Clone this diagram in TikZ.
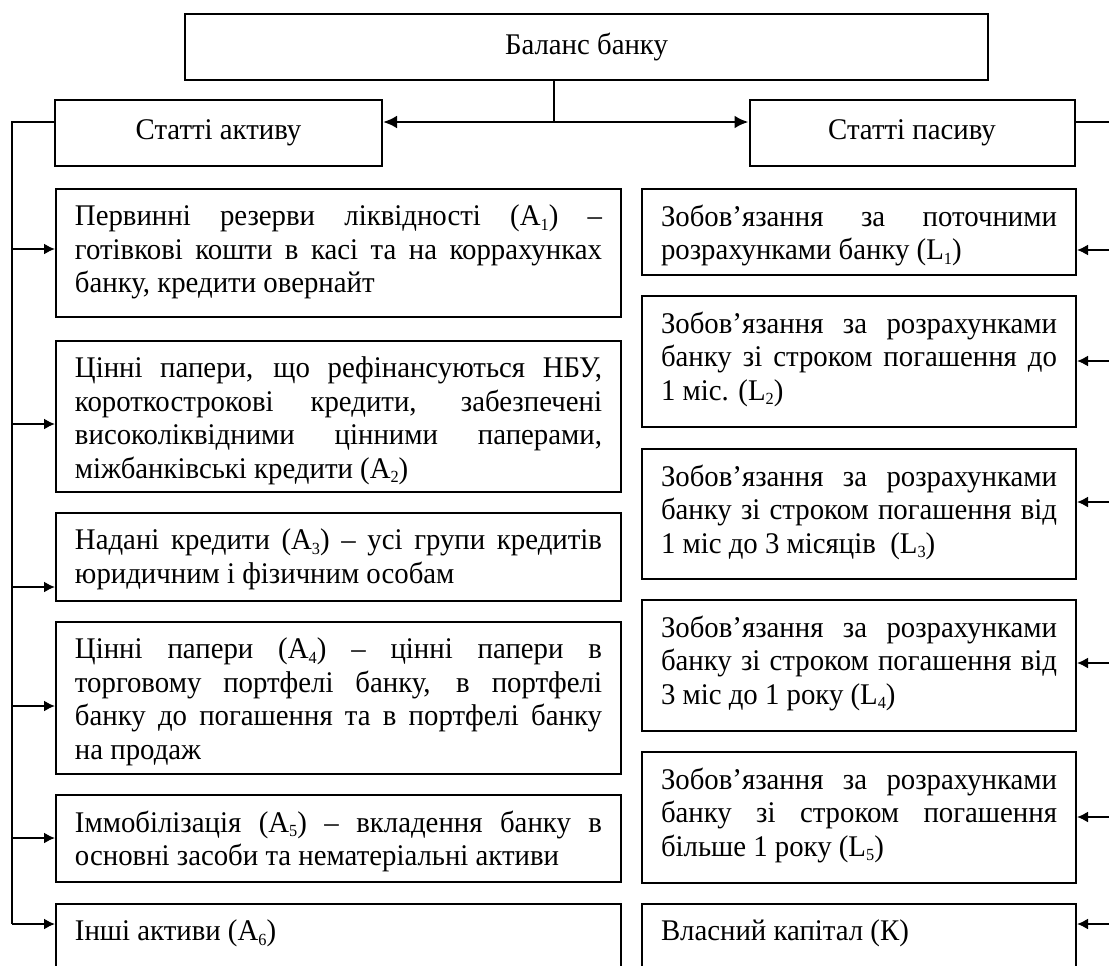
\documentclass[tikz,border=0pt]{standalone}
\usepackage{fontspec}
\setmainfont{Liberation Serif}[FakeStretch=0.96]
\usetikzlibrary{arrows.meta}
\hyphenpenalty=10000
\exhyphenpenalty=10000
\newcommand\tbox[6]{%
  \node[tb] (#1) at (#2,#3) {\parbox[t][\dimexpr #5pt/2-16pt\relax][t]{\dimexpr #4pt/2-19pt\relax}{#6}};}
\newcommand\sub[1]{\raisebox{-0.15em}{\fontsize{8.5}{8.5}\selectfont #1}}
\begin{document}
\begin{tikzpicture}[x=0.5pt,y=-0.5pt,
  tb/.style={draw, line width=1pt, anchor=north west, inner xsep=9.5pt, inner ysep=8pt, font=\fontsize{15}{16.7}\selectfont},
  hb/.style={draw, line width=1pt, inner sep=0pt, font=\fontsize{15}{16.7}\selectfont},
  ln/.style={line width=0.8pt},
  arr/.style={line width=0.9pt, -{Latex[length=5.5pt,width=5.5pt]}},
  barr/.style={line width=1.4pt, -{Latex[length=7pt,width=6.5pt]}}]
\useasboundingbox (0,0) rectangle (1109,965);
\node[hb, minimum width=401.5pt, minimum height=33pt] (bal) at (586.5,47) {Баланс банку};
\node[hb, minimum width=163.5pt, minimum height=33pt] (act) at (218.5,133) {Статті активу};
\node[hb, minimum width=162.5pt, minimum height=33pt] (pas) at (912,133) {Статті пасиву};
\tbox{a1}{55}{188}{565}{128}{Первинні резерви ліквідності (A\sub{1})~–\linebreak готівкові кошти в касі та на коррахунках\linebreak банку, кредити овернайт}
\tbox{a2}{55}{340}{565}{151}{Цінні папери, що рефінансуються НБУ,\linebreak короткострокові кредити, забезпечені\linebreak високоліквідними цінними паперами,\linebreak міжбанківські кредити (A\sub{2})}
\tbox{a3}{55}{512}{565}{88}{Надані кредити (A\sub{3}) – усі групи кредитів\linebreak юридичним і фізичним особам}
\tbox{a4}{55}{621}{565}{152}{Цінні папери (A\sub{4}) – цінні папери в\linebreak торговому портфелі банку, в портфелі\linebreak банку до погашення та в портфелі банку\linebreak на продаж}
\tbox{a5}{55}{794}{565}{87}{Іммобілізація (A\sub{5}) – вкладення банку в\linebreak основні засоби та нематеріальні активи}
\tbox{a6}{55}{903}{565}{120}{Інші активи (A\sub{6})}
\tbox{l1}{641}{188}{434}{86}{Зобов’язання за поточними\linebreak розрахунками банку (L\sub{1})}
\tbox{l2}{641}{295}{434}{131}{Зобов’язання за розрахунками\linebreak банку зі строком погашення до\linebreak 1 міс. (L\sub{2})}
\tbox{l3}{641}{448}{434}{130}{Зобов’язання за розрахунками\linebreak банку зі строком погашення від\linebreak 1 міс до 3 місяців~~(L\sub{3})}
\tbox{l4}{641}{599}{434}{131}{Зобов’язання за розрахунками\linebreak банку зі строком погашення від\linebreak 3 міс до 1 року (L\sub{4})}
\tbox{l5}{641}{751}{434}{131}{Зобов’язання за розрахунками\linebreak банку зі строком погашення\linebreak більше 1 року (L\sub{5})}
\tbox{k}{641}{903}{434}{120}{Власний капітал (К)}
% top connectors
\coordinate (j) at (554,122);
\draw[ln] (bal.south -| j) -- (j);
\draw[barr] (j) -- (j -| act.east);
\draw[barr] (j) -- (j -| pas.west);
% left bus
\coordinate (lt) at (12,122);
\coordinate (lb) at (12,924);
\draw[ln] (j -| act.west) -- (lt) -- (lb);
\coordinate (la1) at (12,249);
\coordinate (la2) at (12,424);
\coordinate (la3) at (12,587);
\coordinate (la4) at (12,706);
\coordinate (la5) at (12,838);
\draw[arr] (la1) -- (la1 -| a1.west);
\draw[arr] (la2) -- (la2 -| a2.west);
\draw[arr] (la3) -- (la3 -| a3.west);
\draw[arr] (la4) -- (la4 -| a4.west);
\draw[arr] (la5) -- (la5 -| a5.west);
\draw[arr] (lb) -- (lb -| a6.west);
% right bus
\coordinate (rt) at (1115,122);
\coordinate (rb) at (1115,924);
\draw[ln] (j -| pas.east) -- (rt) -- (rb);
\coordinate (rl1) at (1115,250);
\coordinate (rl2) at (1115,361);
\coordinate (rl3) at (1115,502);
\coordinate (rl4) at (1115,663);
\coordinate (rl5) at (1115,817);
\draw[arr] (rl1) -- (rl1 -| l1.east);
\draw[arr] (rl2) -- (rl2 -| l2.east);
\draw[arr] (rl3) -- (rl3 -| l3.east);
\draw[arr] (rl4) -- (rl4 -| l4.east);
\draw[arr] (rl5) -- (rl5 -| l5.east);
\draw[arr] (rb) -- (rb -| k.east);
\end{tikzpicture}
\end{document}
